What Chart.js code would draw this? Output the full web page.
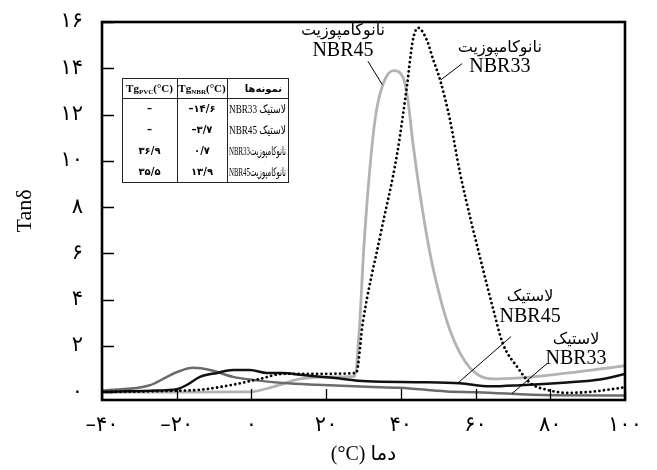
<!DOCTYPE html>
<html lang="fa">
<head>
<meta charset="utf-8">
<script src="https://cdn.jsdelivr.net/npm/chart.js@4.4.1/dist/chart.umd.min.js"></script>
<style>
  html, body { margin: 0; padding: 0; background: #fff; }
  #wrap { width: 657px; height: 470px; }
</style>
</head>
<body>
<div id="wrap"><canvas id="tanChart"></canvas></div>
<script>
// temperature (°C) and tan delta readings for each sample
const nbr33RubberTemp = [-40, -27.2, -22.6, -19.7, -15.6, -11.1, -4.9, 0.4, 8.4, 17.5, 30.9, 39.8, 52.3, 60.4, 79.9, 100];
const nbr33RubberTan  = [0.06, 0.3, 0.66, 0.88, 1.05, 0.96, 0.66, 0.53, 0.40, 0.32, 0.23, 0.19, 0.03, 0.0, -0.14, -0.15];

const nbr45RubberTemp = [-40, -27.2, -19.7, -17.2, -13.8, -9.2, -5, -0.4, 4.2, 8.4, 13, 21.8, 30.9, 45, 55.8, 63.9, 71.9, 85.3, 93.3, 100];
const nbr45RubberTan  = [0.02, 0.06, 0.14, 0.32, 0.66, 0.83, 0.96, 0.96, 0.83, 0.83, 0.75, 0.62, 0.47, 0.43, 0.38, 0.25, 0.30, 0.43, 0.55, 0.78];

const nbr45NanoTemp = [-40, -19.7, -0.4, 5.8, 13, 21.8, 27.6, 28.8, 30, 31.5, 33.2, 35.2, 38, 40.6, 41.9, 43.2, 45.1, 47.8, 50.5, 53.1, 55.8, 58.5, 61.2, 64.7, 71.9, 82.6, 93.3, 100];
const nbr45NanoTan  = [0.0, 0.0, 0.01, 0.23, 0.57, 0.66, 0.68, 2.5, 6.0, 9.3, 11.9, 13.3, 13.9, 13.6, 12.6, 10.8, 8.6, 6.0, 4.1, 2.7, 1.7, 1.05, 0.7, 0.57, 0.62, 0.79, 1.0, 1.14];

const nbr33NanoTemp = [-40, -19.7, -13.8, -5, 2.3, 8.4, 14.9, 28, 29.9, 34.4, 39.0, 41.6, 43.2, 44.6, 47.0, 48.6, 50.5, 53.1, 55.8, 62.0, 64.7, 67.3, 71.1, 74.6, 79.1, 85.3, 98.7, 100];
const nbr33NanoTan  = [0.0, 0.06, 0.1, 0.32, 0.57, 0.79, 0.79, 0.82, 3.1, 6.7, 10.3, 13.2, 15.2, 15.75, 15.2, 14.4, 13.5, 11.8, 9.5, 5.3, 3.6, 2.1, 1.1, 0.4, 0.1, -0.03, 0.18, 0.22];

const xTickValues = [-40, -20, 0, 20, 40, 60, 80, 100];
const xTickLabels = ['–۴۰', '–۲۰', '۰', '۲۰', '۴۰', '۶۰', '۸۰', '۱۰۰'];
const yTickValues = [0, 2, 4, 6, 8, 10, 12, 14, 16];
const yTickLabels = ['۰', '۲', '۴', '۶', '۸', '۱۰', '۱۲', '۱۴', '۱۶'];

// glass transition table
const tableSamples = ['لاستیک NBR33', 'لاستیک NBR45', 'نانوکامپوزیتNBR33', 'نانوکامپوزیتNBR45'];
const tableTgNbr   = ['–۱۴/۶', '–۳/۷', '۰/۷', '۱۳/۹'];
const tableTgPvc   = ['–', '–', '۳۶/۹', '۳۵/۵'];

const persianFont = "'DejaVu Sans'";
const serifFont = "'Liberation Serif', 'DejaVu Sans'";

function toPoints(xs, ys) {
  return xs.map((t, i) => ({ x: t, y: ys[i] }));
}

// callout labels, placed in data units
const callouts = [
  { lines: ['نانوکامپوزیت', 'NBR45'], at: [24.5, 15.6], from: [31.2, 14.3], to: [35.0, 13.3] },
  { lines: ['نانوکامپوزیت', 'NBR33'], at: [66.5, 14.9], from: [56.4, 14.2], to: [50.7, 13.5] },
  { lines: ['لاستیک', 'NBR45'], at: [74.6, 4.1], from: [69.5, 2.4], to: [55.3, 0.4] },
  { lines: ['لاستیک', 'NBR33'], at: [86.9, 2.25], from: [79.1, 1.23], to: [69.7, -0.07] }
];

function drawTable(ctx, a) {
  const left = a.left + 20, top = a.top + 56;
  const cols = [left, left + 55, left + 105, left + 166];
  const headH = 20, rowH = 21;
  const bottom = top + headH + rowH * tableSamples.length;

  ctx.fillStyle = '#fff';
  ctx.fillRect(left, top, cols[3] - left, bottom - top);
  ctx.strokeStyle = '#222';
  ctx.lineWidth = 1;
  ctx.strokeRect(left + 0.5, top + 0.5, cols[3] - left, bottom - top);
  ctx.beginPath();
  ctx.moveTo(left, top + headH + 0.5); ctx.lineTo(cols[3], top + headH + 0.5);
  ctx.moveTo(cols[1] + 0.5, top); ctx.lineTo(cols[1] + 0.5, bottom);
  ctx.moveTo(cols[2] + 0.5, top); ctx.lineTo(cols[2] + 0.5, bottom);
  ctx.stroke();

  ctx.fillStyle = '#000';
  ctx.textBaseline = 'middle';
  const hy = top + headH / 2 + 1;

  // header: Tg with subscript
  function tgHeader(sub, cx) {
    const big = "bold 11px 'Liberation Serif'", small = "bold 7px 'Liberation Serif'";
    ctx.font = big; const w1 = ctx.measureText('Tg').width;
    const w3 = ctx.measureText('(°C)').width;
    ctx.font = small; const w2 = ctx.measureText(sub).width;
    let x = cx - (w1 + w2 + w3) / 2;
    ctx.textAlign = 'left';
    ctx.font = big; ctx.fillText('Tg', x, hy); x += w1;
    ctx.font = small; ctx.fillText(sub, x, hy + 3); x += w2;
    ctx.font = big; ctx.fillText('(°C)', x, hy);
  }
  tgHeader('PVC', (cols[0] + cols[1]) / 2);
  tgHeader('NBR', (cols[1] + cols[2]) / 2);

  ctx.direction = 'rtl';
  ctx.textAlign = 'right';
  ctx.font = 'bold 10px ' + persianFont;
  ctx.fillText('نمونه‌ها', cols[3] - 6, hy);

  tableSamples.forEach((s, i) => {
    const cy = top + headH + rowH * i + rowH / 2 + 1;
    ctx.direction = 'rtl';
    ctx.textAlign = 'right';
    ctx.font = "12px 'Liberation Serif', 'DejaVu Sans'";
    ctx.fillText(s, cols[3] - 2, cy, cols[3] - cols[2] - 4);
    ctx.direction = 'ltr';
    ctx.textAlign = 'center';
    ctx.font = 'bold 10px ' + persianFont;
    ctx.fillText(tableTgNbr[i], (cols[1] + cols[2]) / 2, cy);
    ctx.fillText(tableTgPvc[i], (cols[0] + cols[1]) / 2, cy);
  });
  ctx.direction = 'ltr';
}

const framePlugin = {
  id: 'framePlugin',
  afterDatasetsDraw(chart) {
    const { ctx, chartArea: a, scales: { x, y } } = chart;
    ctx.save();

    // ticks pointing into the plot
    ctx.strokeStyle = '#000';
    ctx.lineWidth = 1.3;
    ctx.beginPath();
    yTickValues.forEach(v => {
      const py = Math.round(y.getPixelForValue(v)) + 0.5;
      ctx.moveTo(a.left, py); ctx.lineTo(a.left + 12, py);
    });
    xTickValues.forEach(v => {
      const px = Math.round(x.getPixelForValue(v)) + 0.5;
      ctx.moveTo(px, a.bottom); ctx.lineTo(px, a.bottom - 11);
    });
    ctx.stroke();

    ctx.lineWidth = 2.6;
    ctx.strokeRect(a.left, a.top, a.right - a.left, a.bottom - a.top);

    drawTable(ctx, a);

    // callouts
    ctx.textAlign = 'center';
    ctx.textBaseline = 'middle';
    ctx.fillStyle = '#000';
    ctx.strokeStyle = '#000';
    ctx.lineWidth = 1;
    callouts.forEach(c => {
      const cx = x.getPixelForValue(c.at[0]);
      const cy = y.getPixelForValue(c.at[1]);
      ctx.font = '16px ' + persianFont;
      ctx.fillText(c.lines[0], cx, cy);
      ctx.font = "20px 'Liberation Serif'";
      ctx.fillText(c.lines[1], cx, cy + 19);
      ctx.beginPath();
      ctx.moveTo(x.getPixelForValue(c.from[0]), y.getPixelForValue(c.from[1]));
      ctx.lineTo(x.getPixelForValue(c.to[0]), y.getPixelForValue(c.to[1]));
      ctx.stroke();
    });
    ctx.restore();
  }
};

const lineBase = { pointRadius: 0, fill: false, cubicInterpolationMode: 'monotone', borderWidth: 2.5 };

new Chart(document.getElementById('tanChart'), {
  type: 'line',
  data: {
    datasets: [
      Object.assign({}, lineBase, {
        label: 'نانوکامپوزیت NBR33', data: toPoints(nbr33NanoTemp, nbr33NanoTan),
        borderColor: '#000', borderWidth: 2.8, borderDash: [0.01, 4.6], borderCapStyle: 'round'
      }),
      Object.assign({}, lineBase, {
        label: 'لاستیک NBR45', data: toPoints(nbr45RubberTemp, nbr45RubberTan), borderColor: '#111'
      }),
      Object.assign({}, lineBase, {
        label: 'لاستیک NBR33', data: toPoints(nbr33RubberTemp, nbr33RubberTan), borderColor: '#6b6b6b'
      }),
      Object.assign({}, lineBase, {
        label: 'نانوکامپوزیت NBR45', data: toPoints(nbr45NanoTemp, nbr45NanoTan), borderColor: '#b3b3b3', borderWidth: 2.8
      })
    ]
  },
  options: {
    responsive: true,
    maintainAspectRatio: false,
    animation: false,
    devicePixelRatio: 1,
    layout: { padding: { top: 22, right: 32, left: 0, bottom: 0 } },
    plugins: { legend: { display: false }, tooltip: { enabled: false } },
    scales: {
      x: {
        type: 'linear', min: -40, max: 100,
        afterBuildTicks: s => { s.ticks = xTickValues.map(v => ({ value: v })); },
        afterFit: s => { s.height = 70; s.paddingLeft = 0; s.paddingRight = 0; },
        grid: { display: false, drawTicks: false },
        border: { display: false },
        ticks: {
          callback: (v, i) => xTickLabels[i], autoSkip: false, maxRotation: 0,
          padding: 13, color: '#000', font: { family: persianFont, size: 21 }
        },
        title: {
          display: true, text: '(°C) دما', color: '#000',
          font: { family: serifFont, size: 20 }, padding: { top: 0, bottom: 3 }
        }
      },
      y: {
        min: -0.34, max: 16,
        afterBuildTicks: s => { s.ticks = yTickValues.map(v => ({ value: v })); },
        afterFit: s => { s.width = 102; s.paddingTop = 0; s.paddingBottom = 0; },
        grid: { display: false, drawTicks: false },
        border: { display: false },
        ticks: {
          callback: (v, i) => yTickLabels[i], autoSkip: false,
          padding: 19, color: '#000', font: { family: persianFont, size: 21 }
        },
        title: {
          display: true, text: 'Tanδ', color: '#000',
          font: { family: "'Liberation Serif'", size: 22 }, padding: { top: 12, bottom: 0 }
        }
      }
    }
  },
  plugins: [framePlugin]
});
</script>
</body>
</html>
